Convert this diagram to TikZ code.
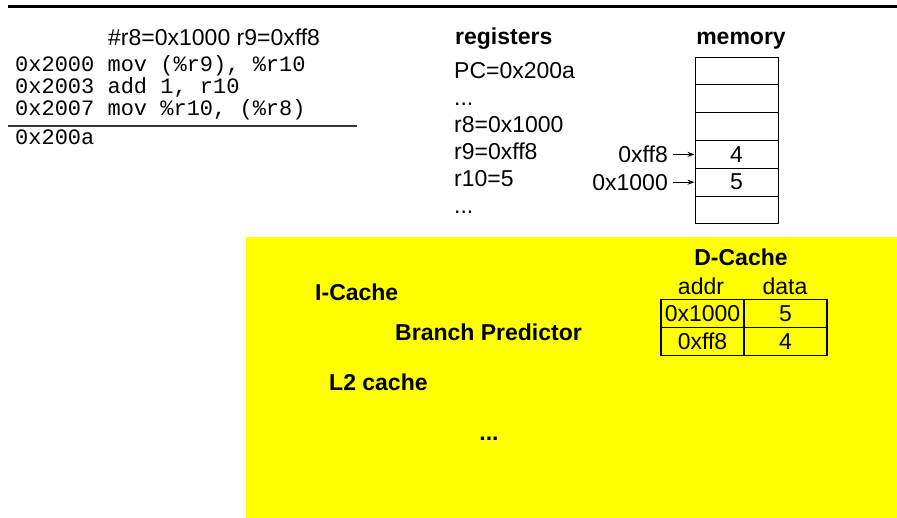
\documentclass[tikz,border=0pt]{standalone}
\usepackage{fontspec}
\setmainfont{Liberation Sans}
\setmonofont{Liberation Mono}
\usetikzlibrary{arrows.meta}
\definecolor{ylw}{RGB}{255,255,0}
\tikzset{
  txt/.style={inner sep=0pt, font=\fontsize{23}{27}\selectfont},
  btxt/.style={inner sep=0pt, font=\fontsize{23}{27}\selectfont\bfseries},
  mono/.style={inner sep=0pt, font=\fontsize{22}{22}\selectfont\ttfamily},
  memcell/.style={draw, line width=1pt, minimum width=83pt, minimum height=27.8pt, inner sep=0pt, font=\fontsize{23}{27}\selectfont},
  dcell/.style={draw, line width=1.2pt, minimum width=83pt, minimum height=28pt, inner sep=0pt, font=\fontsize{23}{27}\selectfont},
  ptr/.style={-{Stealth[length=7pt,width=5pt]}, line width=0.8pt, shorten <=5pt}
}
\begin{document}
\begin{tikzpicture}[x=1pt,y=-1pt]
\useasboundingbox (0,0) rectangle (897,518);
% top rule
\draw[line width=3pt] (8,6.7) -- (897,6.7);
% yellow area
\fill[ylw] (246,237) rectangle (897,518);

% code listing
\node[txt, anchor=base west] (hdr) at (108,45.5) {\#r8=0x1000 r9=0xff8};
\node[mono, anchor=base west] (c1) at (15,72) {0x2000 mov (\%r9), \%r10};
\node[mono, anchor=base west] (c2) at (15,94) {0x2003 add 1, r10};
\node[mono, anchor=base west] (c3) at (15,115.5) {0x2007 mov \%r10, (\%r8)};
\draw[line width=1.3pt, black!80] (8,126) -- (357,126);
\node[mono, anchor=base west] (c4) at (15,145) {0x200a};

% registers
\node[btxt, anchor=base west] (regs) at (455,45) {registers};
\node[txt, anchor=base west] (r1) at (454,79) {PC=0x200a};
\node[txt, anchor=base west] (r2) at (454,106) {...};
\node[txt, anchor=base west] (r3) at (454,133) {r8=0x1000};
\node[txt, anchor=base west] (r4) at (454,160) {r9=0xff8};
\node[txt, anchor=base west] (r5) at (454,187) {r10=5};
\node[txt, anchor=base west] (r6) at (454,214) {...};

% memory
\node[btxt, anchor=base] (mem) at (741,45) {memory};
\node[memcell] (m1) at (736.5,71) {};
\node[memcell] (m2) at (736.5,98.8) {};
\node[memcell] (m3) at (736.5,126.6) {};
\node[memcell] (m4) at (736.5,154.4) {4};
\node[memcell] (m5) at (736.5,182.2) {5};
\node[memcell] (m6) at (736.5,210) {};
\node[txt, anchor=base east] (a4) at (668,162.5) {0xff8};
\node[txt, anchor=base east] (a5) at (668,190.5) {0x1000};
\draw[ptr] (a4.east |- m4.west) -- (m4.west);
\draw[ptr] (a5.east |- m5.west) -- (m5.west);

% cache area
\node[btxt, anchor=base] (dc) at (741,266) {D-Cache};
\node[txt, anchor=base] (addr) at (701,295) {addr};
\node[txt, anchor=base] (data) at (785,295) {data};
\node[dcell] (d11) at (702.5,313.3) {0x1000};
\node[dcell] (d12) at (785.5,313.3) {5};
\node[dcell] (d21) at (702.5,341.3) {0xff8};
\node[dcell] (d22) at (785.5,341.3) {4};

\node[btxt, anchor=base west] (ic) at (315,300.5) {I-Cache};
\node[btxt, anchor=base west] (bp) at (395,341) {Branch Predictor};
\node[btxt, anchor=base west] (l2) at (329,390.5) {L2 cache};
\node[btxt, anchor=base] (dots) at (489,440) {...};
\end{tikzpicture}
\end{document}
